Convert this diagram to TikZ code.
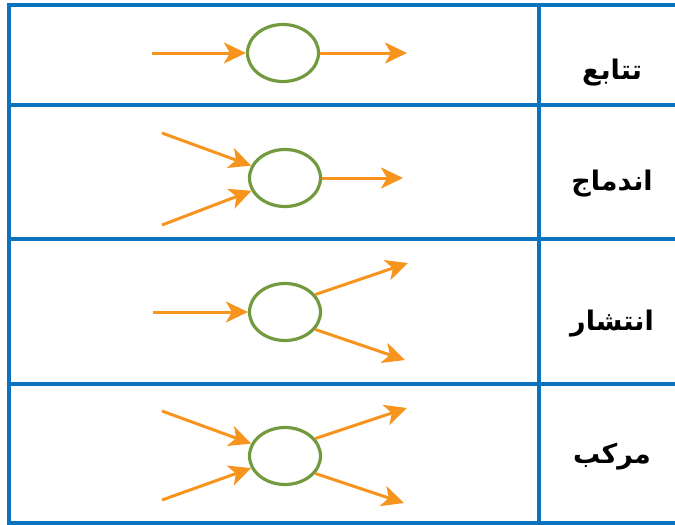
\documentclass[tikz,border=0pt]{standalone}
\usepackage{fontspec}
\usepackage{xcolor}
\usepackage{tikz}
\usetikzlibrary{arrows.meta, shapes.geometric}
\newfontfamily\arabicfont[Script=Arabic]{DejaVu Sans}
\TeXXeTstate=1
\definecolor{TableBlue}{HTML}{0B72BE}
\definecolor{FlowOrange}{HTML}{F7941D}
\definecolor{NodeGreen}{HTML}{739A3F}

\begin{document}
\begin{tikzpicture}[x=1pt, y=-1pt,
  rule/.style={draw=TableBlue, line width=3.8pt},
  junction/.style={ellipse, draw=NodeGreen, line width=3.2pt, minimum width=71pt, minimum height=57pt, inner sep=0pt},
  arrow/.style={-{Stealth[length=22pt, width=21pt, inset=6pt]}, line width=3pt, color=FlowOrange},
  cellname/.style={font=\arabicfont\bfseries\fontsize{27}{32}\selectfont, anchor=base}
]
\useasboundingbox (0,0) rectangle (675,525);

% table
\draw[rule] (675,5) -- (9,5) -- (9,523) -- (675,523);
\draw[rule] (9,105) -- (675,105);
\draw[rule] (9,239) -- (675,239);
\draw[rule] (9,384) -- (675,384);
\draw[rule] (539,5) -- (539,523);

% row names
\node[cellname] (seq) at (612,79) {\beginR تتابع\endR};
\node[cellname] (merge) at (612,190) {\beginR اندماج\endR};
\node[cellname] (spread) at (612,330) {\beginR انتشار\endR};
\node[cellname] (mixed) at (612,463) {\beginR مرکب\endR};

% junctions
\node[junction] (e1) at (283,53) {};
\node[junction] (e2) at (285,178) {};
\node[junction] (e3) at (285,312) {};
\node[junction] (e4) at (285,456) {};

% free ends
\coordinate (in1) at (152,53);
\coordinate (out1) at (407,53);
\coordinate (in2a) at (162,133);
\coordinate (in2b) at (162,225);
\coordinate (out2) at (403,178);
\coordinate (in3) at (153,312);
\coordinate (out3a) at (408,263);
\coordinate (out3b) at (405,360);
\coordinate (in4a) at (162,411);
\coordinate (in4b) at (162,500);
\coordinate (out4a) at (407,408);
\coordinate (out4b) at (404,503);

\draw[arrow] (in1) -- (e1);
\draw[arrow] (e1) -- (out1);
\draw[arrow] (in2a) -- (e2);
\draw[arrow] (in2b) -- (e2);
\draw[arrow] (e2) -- (out2);
\draw[arrow] (in3) -- (e3);
\draw[arrow] (e3.30) -- (out3a);
\draw[arrow] (e3.-30) -- (out3b);
\draw[arrow] (in4a) -- (e4);
\draw[arrow] (in4b) -- (e4);
\draw[arrow] (e4.30) -- (out4a);
\draw[arrow] (e4.-30) -- (out4b);
\end{tikzpicture}
\end{document}
